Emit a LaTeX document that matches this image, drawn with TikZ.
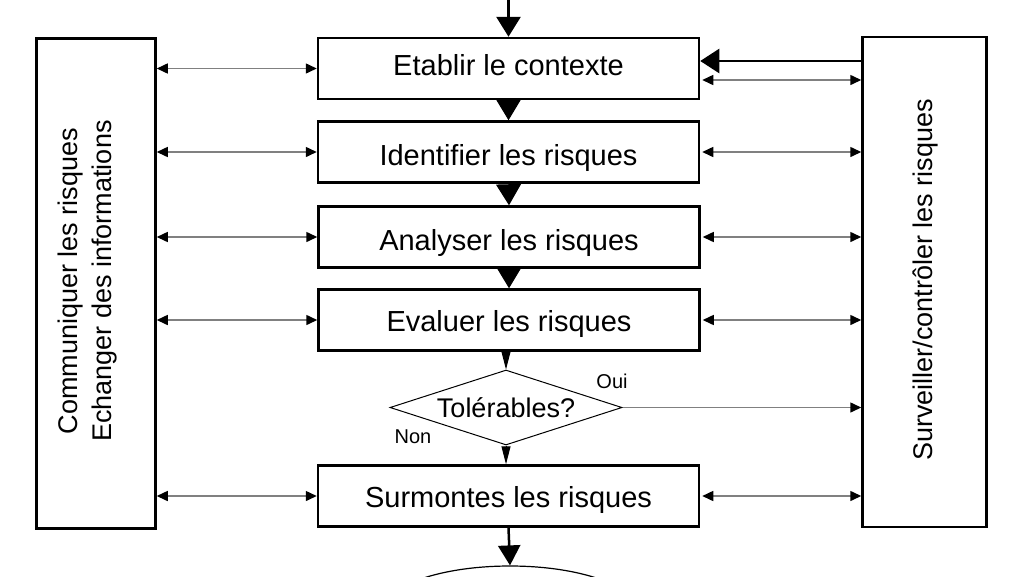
\documentclass[tikz,border=0pt]{standalone}
\usepackage{fontspec}
\setmainfont{Liberation Sans}
\usetikzlibrary{arrows.meta,shapes.geometric,calc}
\begin{document}
\begin{tikzpicture}[x=1pt,y=-1pt,
  box/.style={draw, line width=2.5pt, minimum width=381pt, minimum height=61pt, inner sep=0pt, text height=20pt, text depth=7pt, font=\fontsize{29}{34}\selectfont},
  low/.style={text height=26.5pt, text depth=0.5pt},
  mid/.style={text height=24.5pt, text depth=2.5pt},
  side/.style={draw, line width=2.5pt, inner sep=0pt},
  sidetext/.style={rotate=90, align=center, font=\fontsize{27}{34}\selectfont},
  flow/.style={line width=3pt, -{Triangle[length=20pt,width=24pt]}},
  gapflow/.style={line width=1pt, -{Triangle[length=21pt,width=25pt]}},
  link/.style={draw=gray, line width=1.5pt, {Triangle[length=11pt,width=10pt,color=black]}-{Triangle[length=11pt,width=10pt,color=black]}},
  onelink/.style={draw=gray, line width=1.5pt, -{Triangle[length=11pt,width=10pt,color=black]}},
  small/.style={line width=1pt, -{Triangle[length=18pt,width=9pt]}},
  lbl/.style={font=\fontsize{20}{24}\selectfont, inner sep=0pt}
]
\useasboundingbox (0,0) rectangle (1024,576);
\clip (0,0) rectangle (1024,576);

% side boxes
\node[side, minimum width=119pt, minimum height=490pt] (L) at (96,283.5) {};
\node[sidetext] (Lt) at (87.5,281) {Communiquer les risques\\Echanger des informations};
\node[side, minimum width=124pt, minimum height=490pt] (R) at (924.5,282) {};
\node[sidetext] (Rt) at (925,280) {Surveiller/contrôler les risques};

% central boxes
\node[box] (E) at (508.5,68.5) {Etablir le contexte};
\node[box, low] (I) at (508.5,152) {Identifier les risques};
\node[box, low] (A) at (509,237) {Analyser les risques};
\node[box, mid] (V) at (509,320) {Evaluer les risques};
\node[draw, diamond, line width=1pt, aspect=3.1, minimum width=232pt, minimum height=75pt, inner sep=0pt,
      font=\fontsize{27}{32}\selectfont] (D) at (506,407.5) {Tolérables?};
\node[box, mid] (S) at (508.5,496) {Surmontes les risques};
\node[draw, ellipse, line width=1.2pt, minimum width=254pt, minimum height=90pt] (F) at (510,611) {};

\node[lbl] (oui) at (612,381) {Oui};
\node[lbl] (non) at (413,437) {Non};

% main flow
\coordinate (top) at (508.5,0);
\draw[flow] (top) -- (E.north);
\draw[gapflow] (E.south) -- (I.north);
\draw[gapflow] (I.south) -- (A.north);
\draw[gapflow] (A.south) -- (V.north);
\draw[small] (V.south -| D.north) -- (D.north);
\draw[small] (D.south) -- (S.north -| D.south);
\draw[line width=2.5pt, -{Triangle[length=20pt,width=22pt]}] (S.south) -- (F.north);

% left links
\draw[link] (L.east |- E.west) -- (E.west);
\draw[link] (L.east |- I.west) -- (I.west);
\draw[link] (L.east |- A.west) -- (A.west);
\draw[link] (L.east |- V.west) -- (V.west);
\draw[link] (L.east |- S.west) -- (S.west);

% right links
\coordinate (E1) at ([yshift=7.5pt]E.east);
\coordinate (E2) at ([yshift=-11.5pt,xshift=2pt]E.east);
\draw[line width=2.5pt, -{Triangle[length=19pt,width=24pt]}] (R.west |- E1) -- (E1);
\draw[link] (E2) -- (R.west |- E2);
\draw[link] ([xshift=2pt]I.east) -- (R.west |- I.east);
\draw[link] ([xshift=2pt]A.east) -- (R.west |- A.east);
\draw[link] ([xshift=2pt]V.east) -- (R.west |- V.east);
\draw[onelink] (D.east) -- (R.west |- D.east);
\draw[link] ([xshift=2pt]S.east) -- (R.west |- S.east);
\end{tikzpicture}
\end{document}
